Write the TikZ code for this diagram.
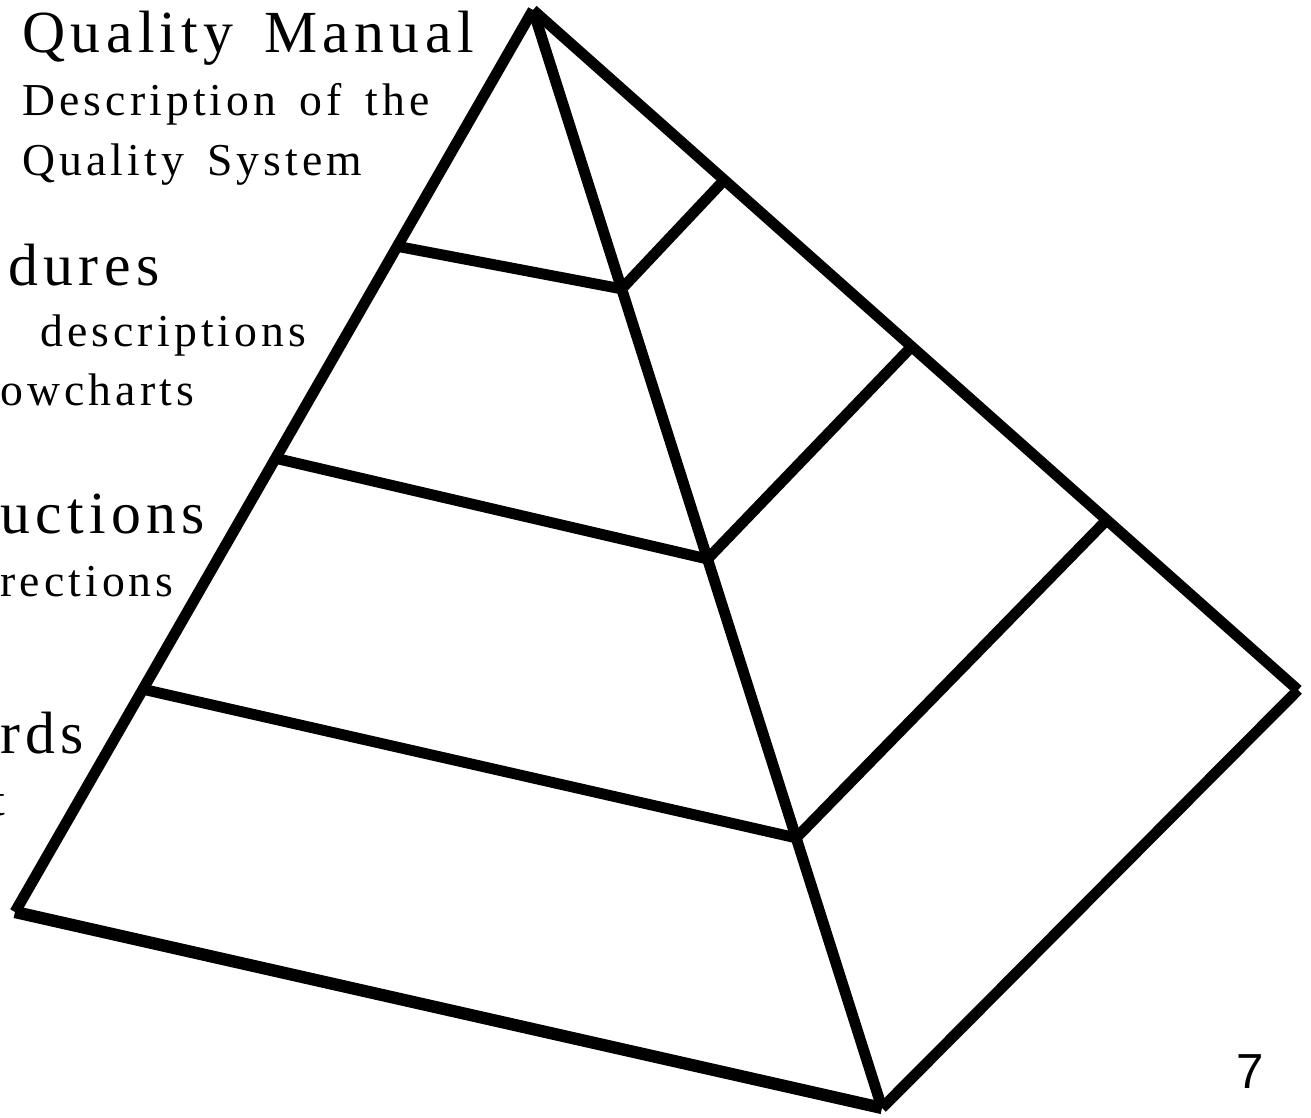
\documentclass[tikz,border=0pt]{standalone}
\usepackage{fontspec}
\setmainfont{Liberation Serif}
\newfontfamily\spaced[LetterSpace=9, WordSpace=1.5]{Liberation Serif}
\newfontfamily\pagefont{Liberation Sans}
\usetikzlibrary{calc}

\begin{document}
\begin{tikzpicture}[x=0.02cm, y=-0.02cm,
    edge/.style={line width=6.2pt, line cap=butt},
    base/.style={line width=7pt, line cap=butt},
    big/.style={anchor=base west, inner sep=0pt, font=\spaced\fontsize{34}{34}\selectfont},
    small/.style={anchor=base west, inner sep=0pt, font=\spaced\fontsize{26}{26}\selectfont}]
    \clip (0,0) rectangle (1311,1118);

    % pyramid corners
    \coordinate (apex) at (533,10);
    \coordinate (lft) at (15,912);
    \coordinate (frt) at (882,1108);
    \coordinate (rgt) at (1298,690);

    % points on the edges
    \coordinate (l1) at ($(apex)!0.262!(lft)$);
    \coordinate (l2) at ($(apex)!0.497!(lft)$);
    \coordinate (l3) at ($(apex)!0.753!(lft)$);
    \coordinate (f1) at ($(apex)!0.254!(frt)$);
    \coordinate (f2) at ($(apex)!0.5!(frt)$);
    \coordinate (f3) at ($(apex)!0.754!(frt)$);
    \coordinate (r1) at ($(apex)!0.25!(rgt)$);
    \coordinate (r2) at ($(apex)!0.495!(rgt)$);
    \coordinate (r3) at ($(apex)!0.75!(rgt)$);

    \draw[edge] (apex) -- (lft);
    \draw[edge] (apex) -- (frt);
    \draw[edge] (apex) -- (rgt);
    \draw[base] (lft) -- (frt);
    \draw[edge] (frt) -- (rgt);

    \draw[edge] (l1) -- (f1) -- (r1);
    \draw[edge] (l2) -- (f2) -- (r2);
    \draw[edge] (l3) -- (f3) -- (r3);

    % labels, cut at the left side
    \node[big] (manual) at (22,53) {Quality Manual};
    \node[small] (desc1) at (22,116) {Description of the};
    \node[small] (desc2) at (22,176) {Quality System};
    \node[big] (proc) at (8,286) {dures};
    \node[small] (proc1) at (40,346) {descriptions};
    \node[small] (proc2) at (0,405) {owcharts};
    \node[big] (instr) at (0,533) {uctions};
    \node[small] (instr1) at (0,596) {rections};
    \node[big] (rec) at (0,753) {rds};
    \node[small] (rec1) at (-8,815) {t};

    \node[anchor=base west, inner sep=0pt, font=\pagefont\fontsize{28}{28}\selectfont] (page) at (1236,1088) {7};
\end{tikzpicture}
\end{document}
